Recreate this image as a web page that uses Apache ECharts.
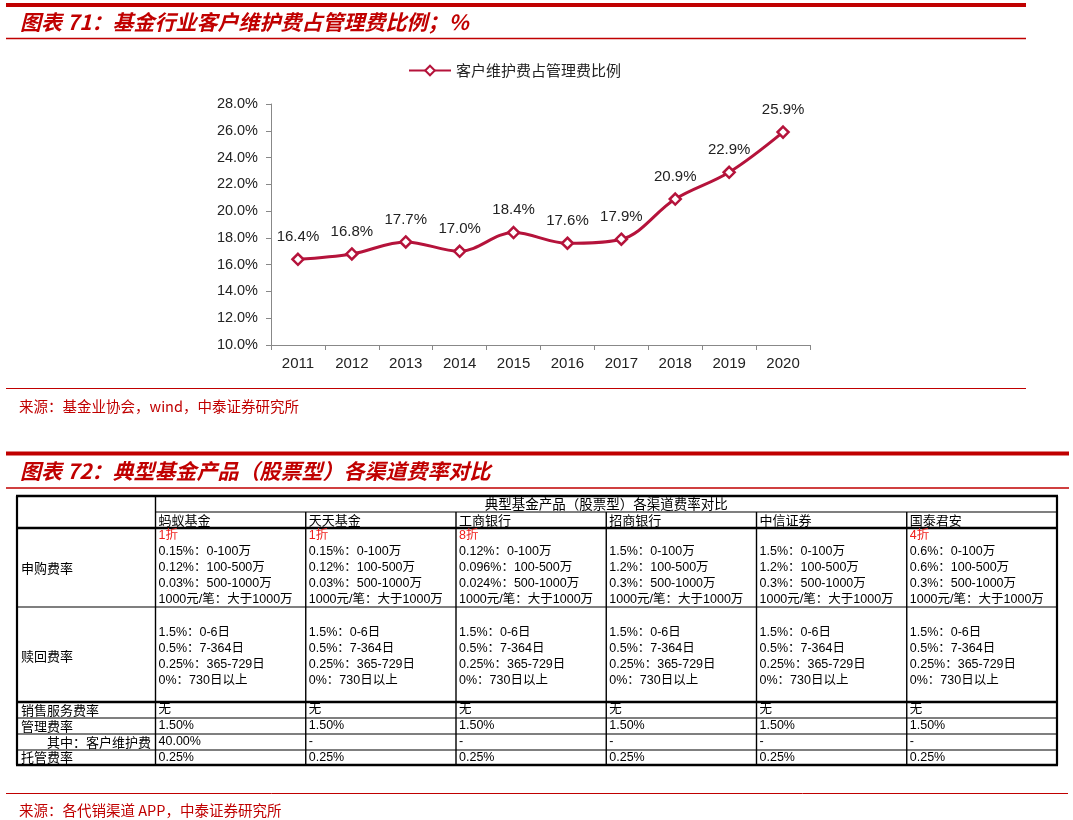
<!DOCTYPE html>
<html>
<head>
<meta charset="utf-8">
<script src="https://cdn.jsdelivr.net/npm/echarts@6/dist/echarts.min.js"></script>
<style>
html,body{margin:0;padding:0;background:#fff;}
#main{width:1073px;height:820px;}
</style>
</head>
<body>
<div id="main"></div>
<script>
// ---- Chart data ----
const years = ['2011','2012','2013','2014','2015','2016','2017','2018','2019','2020'];
const ratio = [16.4, 16.8, 17.7, 17.0, 18.4, 17.6, 17.9, 20.9, 22.9, 25.9];
const seriesName = '客户维护费占管理费比例';
const yMin = 10, yMax = 28, yStep = 2;

// ---- Text ----
const title1 = '图表 71：基金行业客户维护费占管理费比例；%';
const source1 = '来源：基金业协会，wind，中泰证券研究所';
const title2 = '图表 72：典型基金产品（股票型）各渠道费率对比';
const source2 = '来源：各代销渠道 APP，中泰证券研究所';

// ---- Table data ----
const tableHeader = '典型基金产品（股票型）各渠道费率对比';
const channels = ['蚂蚁基金','天天基金','工商银行','招商银行','中信证券','国泰君安'];
const discounts = ['1折','1折','8折','','','4折'];
const purchaseFees = [
  ['0.15%：0-100万','0.12%：100-500万','0.03%：500-1000万','1000元/笔：大于1000万'],
  ['0.15%：0-100万','0.12%：100-500万','0.03%：500-1000万','1000元/笔：大于1000万'],
  ['0.12%：0-100万','0.096%：100-500万','0.024%：500-1000万','1000元/笔：大于1000万'],
  ['1.5%：0-100万','1.2%：100-500万','0.3%：500-1000万','1000元/笔：大于1000万'],
  ['1.5%：0-100万','1.2%：100-500万','0.3%：500-1000万','1000元/笔：大于1000万'],
  ['0.6%：0-100万','0.6%：100-500万','0.3%：500-1000万','1000元/笔：大于1000万']
];
const redemptionFees = [
  ['1.5%：0-6日','0.5%：7-364日','0.25%：365-729日','0%：730日以上'],
  ['1.5%：0-6日','0.5%：7-364日','0.25%：365-729日','0%：730日以上'],
  ['1.5%：0-6日','0.5%：7-364日','0.25%：365-729日','0%：730日以上'],
  ['1.5%：0-6日','0.5%：7-364日','0.25%：365-729日','0%：730日以上'],
  ['1.5%：0-6日','0.5%：7-364日','0.25%：365-729日','0%：730日以上'],
  ['1.5%：0-6日','0.5%：7-364日','0.25%：365-729日','0%：730日以上']
];
const rowLabels = ['申购费率','赎回费率','销售服务费率','管理费率','　　其中：客户维护费','托管费率'];
const salesService = ['无','无','无','无','无','无'];
const mgmtFee = ['1.50%','1.50%','1.50%','1.50%','1.50%','1.50%'];
const custMaint = ['40.00%','-','-','-','-','-'];
const custodyFee = ['0.25%','0.25%','0.25%','0.25%','0.25%','0.25%'];

// ---- Layout (positions only) ----
const RED = '#C00000';
const LINE_RED = '#B5133B';
const CJK = '"Noto Sans CJK SC", sans-serif';
const MIX = '"Liberation Sans", "Noto Sans CJK SC", sans-serif';
const tblL = 17, tblR = 1057, lblR = 155.5;
const colW = (tblR - lblR) / channels.length;
const rowY = [496, 512, 528, 607, 702, 718, 734, 750, 765];
const thick = {0:true, 2:true, 4:true, 8:true};

const g = [];
function hline(x1, x2, y, w, c){ g.push({type:'line', shape:{x1:x1,y1:y,x2:x2,y2:y}, style:{stroke:c, lineWidth:w}, silent:true}); }
function vline(x, y1, y2, w, c){ g.push({type:'line', shape:{x1:x,y1:y1,x2:x,y2:y2}, style:{stroke:c, lineWidth:w}, silent:true}); }
function txt(s, x, y, font, fill, align){ g.push({type:'text', x:x, y:y, style:{text:s, font:font, fill:fill||'#000', textAlign:align||'left', textVerticalAlign:'middle'}, silent:true}); }

// header section 1
hline(6, 1026, 5, 4, RED);
txt(title1, 20, 22, 'italic bold 21px ' + CJK, RED);
hline(6, 1026, 38.5, 1.5, RED);
hline(6, 1026, 388.5, 1, RED);
txt(source1, 19, 406, '14.5px ' + CJK, RED);

// section 2
hline(6, 1069, 453.5, 4, RED);
txt(title2, 20, 471, 'italic bold 21px ' + CJK, RED);
hline(6, 1069, 488, 1.5, RED);
hline(6, 1068, 793.5, 1, RED);
txt(source2, 19, 810, '14.5px ' + CJK, RED);

// table grid
rowY.forEach(function(y, i){
  const x1 = (i === 1) ? lblR : tblL;
  hline(x1 - (thick[i]?1:0), tblR + (thick[i]?1:0), y, thick[i] ? 2.5 : 1.2, '#000');
});
vline(tblL, rowY[0], rowY[8], 2.2, '#000');
vline(tblR, rowY[0], rowY[8], 2.2, '#000');
vline(lblR, rowY[0], rowY[8], 1.4, '#000');
for (let c = 1; c < channels.length; c++) vline(lblR + c*colW, rowY[1], rowY[8], 1.4, '#000');

// table text
txt(tableHeader, (lblR + tblR)/2, 504, '13.5px ' + CJK, '#000', 'center');
channels.forEach(function(ch, c){
  const x = lblR + c*colW + 3;
  txt(ch, x, 520, '13px ' + CJK);
  if (discounts[c]) txt(discounts[c], x, 536, '12.5px ' + MIX, '#F0201C');
  purchaseFees[c].forEach(function(s, k){ txt(s, x, 552 + 16*k, '12.5px ' + MIX); });
  redemptionFees[c].forEach(function(s, k){ txt(s, x, 633 + 16*k, '12.5px ' + MIX); });
  txt(salesService[c], x, 710, '12.5px ' + MIX);
  txt(mgmtFee[c], x, 726, '12.5px ' + MIX);
  txt(custMaint[c], x, 742, '12.5px ' + MIX);
  txt(custodyFee[c], x, 757.5, '12.5px ' + MIX);
});
const lblY = [568, 656, 710, 726, 742, 757.5];
rowLabels.forEach(function(s, i){ txt(s, 21, lblY[i], '13px ' + CJK); });

const chart = echarts.init(document.getElementById('main'));
chart.setOption({
  animation: false,
  backgroundColor: '#fff',
  legend: {
    top: 58, left: 403,
    itemWidth: 42, itemHeight: 12, itemGap: 5,
    data: [seriesName],
    textStyle: {fontFamily: CJK, fontSize: 15, color: '#222'}
  },
  grid: {left: 271, right: 263, top: 104, bottom: 475},
  xAxis: {
    type: 'category', data: years, boundaryGap: true,
    axisLine: {lineStyle: {color: '#888', width: 1}},
    axisTick: {show: true, length: 5, lineStyle: {color: '#888'}},
    axisLabel: {margin: 11, fontSize: 15, color: '#222', fontFamily: '"Liberation Sans", Arial, sans-serif'}
  },
  yAxis: {
    type: 'value', min: yMin, max: yMax, interval: yStep,
    axisLine: {show: true, lineStyle: {color: '#888', width: 1}},
    axisTick: {show: true, length: 5, lineStyle: {color: '#888'}},
    splitLine: {show: false},
    axisLabel: {margin: 13, fontSize: 14.5, color: '#222', fontFamily: '"Liberation Sans", Arial, sans-serif',
      formatter: function(v){ return v.toFixed(1) + '%'; }}
  },
  series: [{
    name: seriesName, type: 'line', data: ratio, smooth: 0.35,
    symbol: 'diamond', symbolSize: 11,
    lineStyle: {color: LINE_RED, width: 3},
    itemStyle: {color: '#fff', borderColor: LINE_RED, borderWidth: 2.5},
    label: {show: true, position: 'top', distance: 8, fontSize: 15, color: '#222',
      fontFamily: '"Liberation Sans", Arial, sans-serif',
      formatter: function(p){ return p.value.toFixed(1) + '%'; }}
  }],
  graphic: g
});
</script>
</body>
</html>
